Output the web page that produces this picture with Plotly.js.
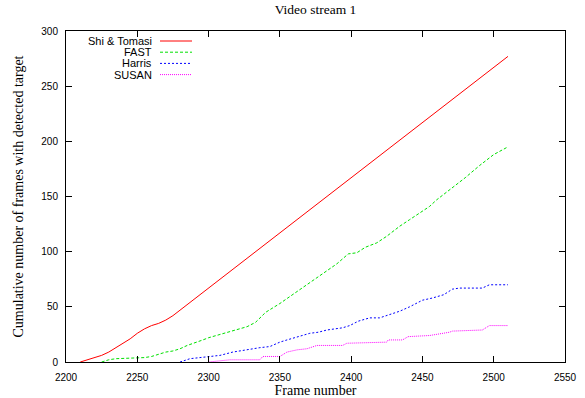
<!DOCTYPE html>
<html>
<head>
<meta charset="utf-8">
<script src="https://cdn.plot.ly/plotly-3.0.1.min.js"></script>
<style>html,body{margin:0;padding:0;background:#fff;}#chart{width:585px;height:398px;}</style>
</head>
<body>
<div id="chart"></div>
<script>
const seriesNames = ["Shi & Tomasi", "FAST", "Harris", "SUSAN"];

const shiFrames = [2210,2215,2220,2225,2230,2235,2240,2245,2250,2255,2260,2265,2270,2275,2510];
const shiValues = [0,2,4,6,9,13,17,21,26,30,33,35,38,42,277];

const fastFrames = [2225,2230,2235,2255,2260,2265,2270,2275,2280,2285,2290,2296,2300,2308,2315,2320,2327,2333,2340,2350,2360,2370,2380,2390,2398,2404,2410,2418,2425,2434,2441,2448,2455,2460,2470,2480,2490,2500,2510];
const fastValues = [0,2,3,4,5,7,9,10,12,15,17,20,22,25,28,30,32,36,45,53,62,71,80,89,98,99,104,108,114,123,129,135,141,147,157,167,178,188,195];

const harrisFrames = [2280,2287,2294,2301,2308,2317,2322,2329,2336,2343,2350,2355,2364,2371,2377,2383,2394,2399,2405,2413,2420,2427,2434,2441,2450,2457,2465,2471,2476,2492,2497,2510];
const harrisValues = [0,3,4,5,6,9,10,12,13,14,18,20,23,26,27,29,31,33,37,40,40,43,46,50,56,58,61,66,67,67,70,70];

const susanFrames = [2300,2315,2336,2338,2350,2355,2362,2369,2376,2394,2397,2415,2425,2426,2436,2440,2455,2469,2471,2492,2497,2510];
const susanValues = [0,2,2,5,5,9,11,12,15,15,17,18,18,20,20,23,24,27,28,29,33,33];

const xTicks = [2200,2250,2300,2350,2400,2450,2500,2550];
const yTicks = [0,50,100,150,200,250,300];

const colors = ["#ff0000", "#00e000", "#0000ff", "#ff00ff"];
const dashes = ["solid", "3px,2px", "2px,2px", "1px,1px"];

const frames = [shiFrames, fastFrames, harrisFrames, susanFrames];
const values = [shiValues, fastValues, harrisValues, susanValues];

const traces = seriesNames.map((n, i) => ({
  x: frames[i], y: values[i], name: n, type: "scatter", mode: "lines",
  line: {color: colors[i], width: 1, dash: dashes[i]}, showlegend: false
}));

// gnuplot-style key (text right-aligned, sample line to the right)
const annotations = [];
const shapes = [];
const keyTop = 41, keyStep = 11.2;
seriesNames.forEach((n, i) => {
  const yPix = keyTop + i * keyStep;
  const yPaper = 1 - (yPix - 31) / 331;
  const xText = (154 - 66) / 499;
  annotations.push({
    xref: "paper", yref: "paper", x: xText, y: yPaper, xanchor: "right", yanchor: "middle",
    text: n, showarrow: false, font: {family: "Liberation Sans, Arial, sans-serif", size: 11, color: "#000"}
  });
  shapes.push({
    type: "line", xref: "paper", yref: "paper",
    x0: (160 - 66) / 499, x1: (192 - 66) / 499, y0: yPaper, y1: yPaper,
    line: {color: colors[i], width: 1, dash: dashes[i]}
  });
});

const layout = {
  width: 585, height: 398,
  margin: {l: 66, r: 20, t: 31, b: 36},
  paper_bgcolor: "#fff", plot_bgcolor: "#fff",
  title: {text: "Video stream 1", font: {family: "Liberation Serif, Times New Roman, serif", size: 13.5, color: "#000"}, x: 0.5, xref: "paper", y: 1, yref: "container", yanchor: "top", pad: {t: 5}},
  xaxis: {
    range: [2200, 2550], tickvals: xTicks, ticktext: xTicks.map(String),
    ticks: "inside", ticklen: 6, tickcolor: "#000", tickwidth: 1,
    showline: true, linecolor: "#000", linewidth: 1, mirror: "ticks",
    showgrid: false, zeroline: false, automargin: false,
    ticklabelstandoff: 6,
    tickfont: {family: "Liberation Sans, Arial, sans-serif", size: 10, color: "#000"},
    title: {text: "Frame number", font: {family: "Liberation Serif, Times New Roman, serif", size: 14, color: "#000"}, standoff: 7}
  },
  yaxis: {
    range: [0, 300], tickvals: yTicks, ticktext: yTicks.map(String),
    ticks: "inside", ticklen: 6, tickcolor: "#000", tickwidth: 1,
    showline: true, linecolor: "#000", linewidth: 1, mirror: "ticks",
    showgrid: false, zeroline: false, automargin: false,
    ticklabelstandoff: 5,
    tickfont: {family: "Liberation Sans, Arial, sans-serif", size: 10, color: "#000"},
    title: {text: "Cumulative number of frames with detected target", font: {family: "Liberation Serif, Times New Roman, serif", size: 14, color: "#000"}, standoff: 14}
  },
  annotations: annotations,
  shapes: shapes
};

Plotly.newPlot("chart", traces, layout, {displayModeBar: false, staticPlot: true});
</script>
</body>
</html>
